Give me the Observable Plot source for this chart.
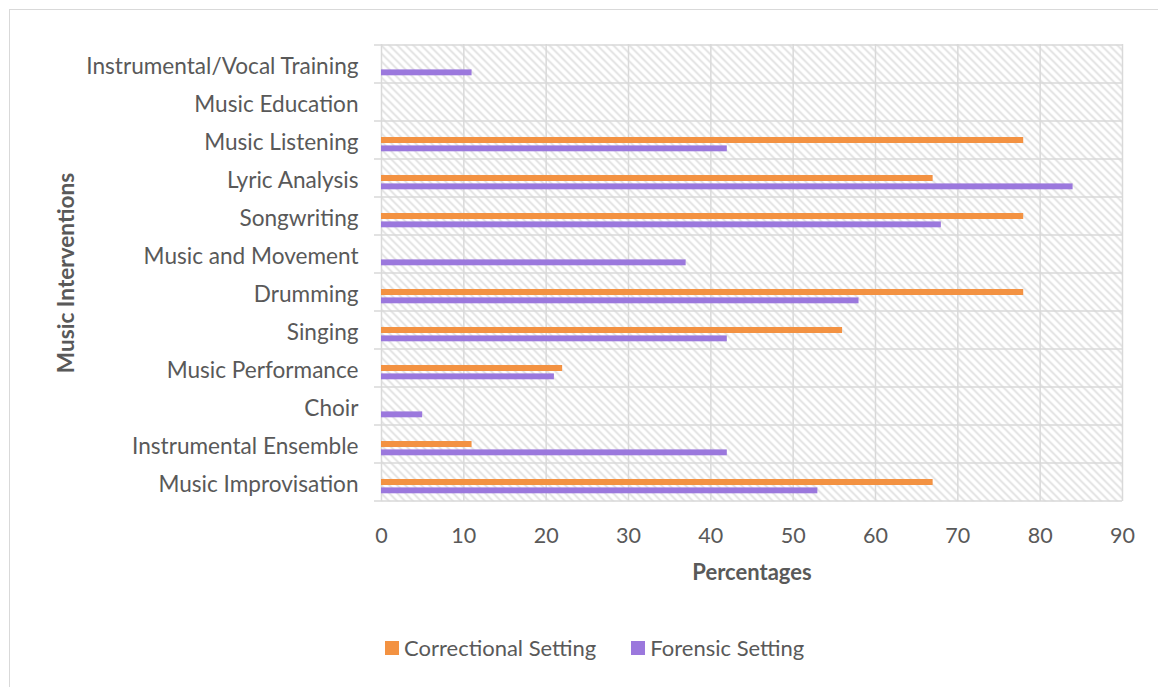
<!DOCTYPE html>
<html>
<head>
<meta charset="utf-8">
<script src="https://cdn.jsdelivr.net/npm/d3@7"></script>
<script src="https://cdn.jsdelivr.net/npm/@observablehq/plot@0.6"></script>
<style>
  html, body { margin: 0; padding: 0; background: #fff; }
  #wrap { position: relative; width: 1167px; height: 687px; overflow: hidden; font-family: Lato, "Open Sans", sans-serif; }
  #border { position: absolute; left: 9px; top: 9px; width: 1148px; height: 700px;
            border-left: 1.5px solid #d9d9d9; border-top: 1.5px solid #d9d9d9; }
  #chart { position: absolute; left: 0; top: 0; }
  #legend { position: absolute; top: 634px; left: 385px; display: flex; align-items: center;
            font-size: 22px; color: #595959; white-space: nowrap; }
  .item { display: flex; align-items: center; margin-right: 35px; }
  .swatch { width: 14px; height: 14px; margin-right: 5px; }
</style>
</head>
<body>
<div id="wrap">
  <div id="border"></div>
  <div id="chart"></div>
  <div id="legend"></div>
</div>
<script>
// Share of programmes using each music intervention, by setting (%)
const categories = [
  "Instrumental/Vocal Training",
  "Music Education",
  "Music Listening",
  "Lyric Analysis",
  "Songwriting",
  "Music and Movement",
  "Drumming",
  "Singing",
  "Music Performance",
  "Choir",
  "Instrumental Ensemble",
  "Music Improvisation"
];
const correctional = [0, 0, 78, 67, 78, 0, 78, 56, 22, 0, 11, 67];
const forensic     = [11, 0, 42, 84, 68, 37, 58, 42, 21, 5, 42, 53];
const xTicks = [0, 10, 20, 30, 40, 50, 60, 70, 80, 90];
const seriesNames = ["Correctional Setting", "Forensic Setting"];

const ORANGE = "#f39242";
const PURPLE = "#9b78dd";
const GRID = "#d9d9d9";
const TEXT = "#595959";

const rows = categories.map((c, i) => ({category: c, correctional: correctional[i], forensic: forensic[i]}));

// Horizontal separators at band edges, extending a little left of the plot area
function bandLines(index, scales, values, dims) {
  const x = scales.x, y = scales.y;
  let edges;
  if (y && typeof y.bandwidth === "function") {
    const bw = y.bandwidth();
    edges = categories.map(c => y(c)).concat([y(categories[categories.length - 1]) + bw]);
  } else {
    const top = dims.marginTop, bottom = dims.height - dims.marginBottom;
    const bw = (bottom - top) / categories.length;
    edges = d3.range(categories.length + 1).map(i => top + i * bw);
  }
  const g = d3.create("svg:g").attr("stroke", GRID).attr("stroke-width", 1.5);
  g.selectAll("line").data(edges).join("line")
    .attr("x1", x(xTicks[0]) - 7).attr("x2", x(xTicks[xTicks.length - 1]))
    .attr("y1", d => d).attr("y2", d => d);
  return g.node();
}

const svg = Plot.plot({
  width: 1167,
  height: 600,
  marginLeft: 381,
  marginRight: 45,
  marginTop: 44,
  marginBottom: 99,
  style: {fontFamily: "Lato, 'Open Sans', sans-serif", color: TEXT, background: "transparent"},
  x: {domain: [xTicks[0], xTicks[xTicks.length - 1]]},
  y: {domain: categories, padding: 0},
  marks: [
    Plot.frame({fill: "url(#hatch)", stroke: "none"}),
    Plot.ruleX(xTicks, {stroke: GRID, strokeWidth: 1.5}),
    bandLines,
    Plot.barX(rows, {y: "category", x: "correctional", fill: ORANGE, insetTop: 16, insetBottom: 16}),
    Plot.barX(rows, {y: "category", x: "forensic", fill: PURPLE, insetTop: 24.4, insetBottom: 7.7}),
    Plot.axisX({ticks: xTicks, tickSize: 0, tickPadding: 26, fontSize: 21.5, label: null, fill: TEXT}),
    Plot.axisY({tickSize: 0, tickPadding: 23, fontSize: 22.6, label: null, fill: TEXT, dy: 2}),
    Plot.text(["Percentages"], {frameAnchor: "bottom", dy: 71, fontSize: 22, fontWeight: "bold",
      fill: TEXT, lineAnchor: "middle", textAnchor: "middle"}),
    Plot.text(["Music Interventions"], {frameAnchor: "left", dx: -315, rotate: -90, fontSize: 22.6,
      fontWeight: "bold", fill: TEXT, lineAnchor: "middle", textAnchor: "middle"})
  ]
});

// Light downward-diagonal hatch for the plot background
const defs = d3.select(svg).insert("defs", ":first-child");
const pat = defs.append("pattern").attr("id", "hatch")
  .attr("patternUnits", "userSpaceOnUse").attr("width", 8).attr("height", 8);
pat.append("rect").attr("width", 8).attr("height", 8).attr("fill", "#fff");
pat.append("path").attr("d", "M-2,-2L10,10M-2,6L2,10M6,-2L10,2")
  .attr("stroke", "#dedede").attr("stroke-width", 1.6);

document.getElementById("chart").appendChild(svg);

// Legend
const legend = d3.select("#legend");
[[seriesNames[0], ORANGE], [seriesNames[1], PURPLE]].forEach(([name, col]) => {
  const it = legend.append("div").attr("class", "item");
  it.append("div").attr("class", "swatch").style("background", col);
  it.append("span").text(name);
});
</script>
</body>
</html>
